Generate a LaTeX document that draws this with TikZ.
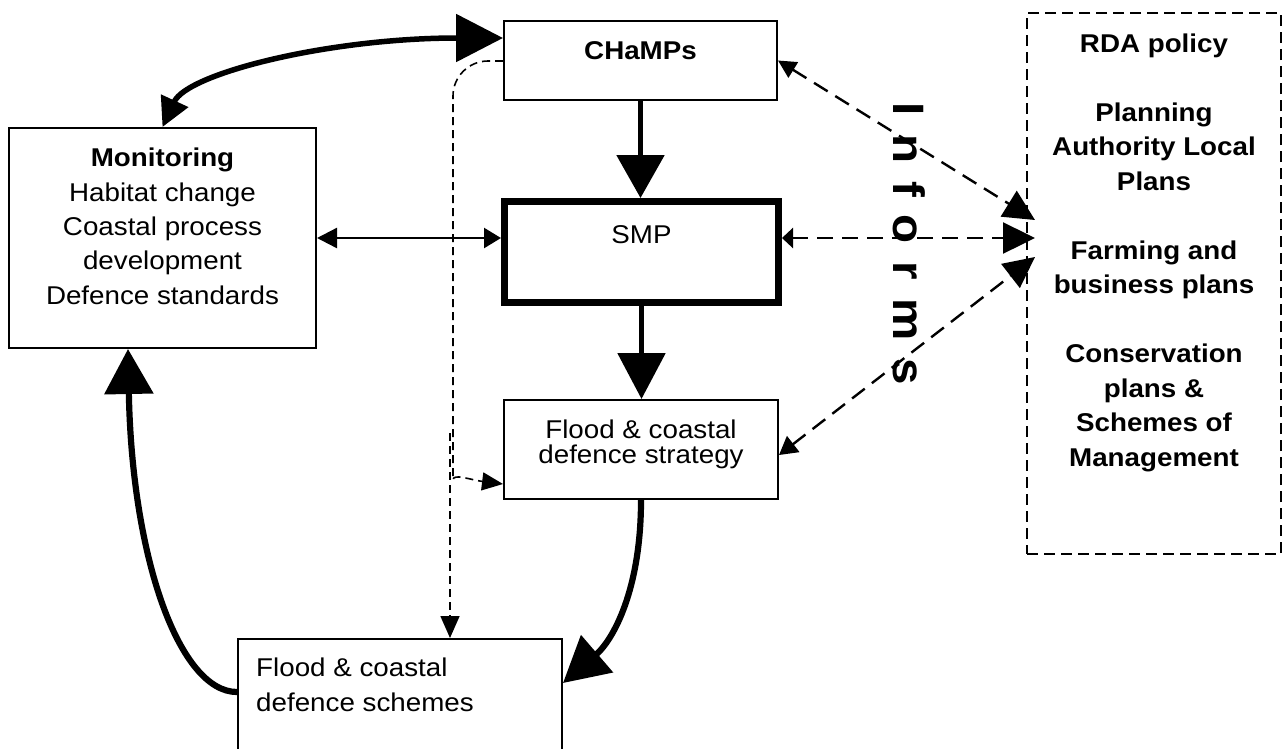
\documentclass[tikz,border=0pt]{standalone}
\usepackage{fontspec}
\setmainfont{Liberation Sans}[FakeStretch=1.08]
\usetikzlibrary{arrows.meta,calc}
\newcommand\fsz{\fontsize{25.7}{34.3}\selectfont}
\newcommand\fstrat{\fontsize{25.7}{25}\selectfont}
\newcommand\frda{\fontsize{25.7}{34.5}\selectfont}
\newcommand\finf{\fontsize{44}{44}\selectfont}
\begin{document}
\begin{tikzpicture}[x=1pt,y=-1pt,
  box/.style={draw, line width=1.8pt, inner sep=0pt},
  txt/.style={inner sep=0pt, font=\fsz},
  heavy/.style={line width=5.5pt},
  heavier/.style={line width=6.2pt},
  dashinf/.style={line width=2.4pt, dash pattern=on 16pt off 9pt},
  dashthin/.style={line width=1.6pt, dash pattern=on 8pt off 5pt}]
\useasboundingbox (0,0) rectangle (1284,748);

% boxes
\node[box, minimum width=307.2pt, minimum height=220.2pt] (mon) at (162.5,238) {};
\node[box, minimum width=273.2pt, minimum height=79.2pt] (champs) at (640.5,60.5) {};
\node[box, line width=7pt, minimum width=274pt, minimum height=101pt] (smp) at (641.5,252) {};
\node[box, minimum width=274.2pt, minimum height=99.2pt] (strat) at (641,449.5) {};
\node[box, minimum width=324.2pt, minimum height=130.2pt] (schemes) at (400,704) {};
\node[box, line width=2pt, dash pattern=on 11pt off 6pt, minimum width=254pt, minimum height=541pt] (rda) at (1154,283.5) {};

% texts (multi-line nodes: base = last baseline)
\node[txt, anchor=base, font=\fsz\bfseries] (tchamps) at (640.5,59) {CHaMPs};
\node[txt, anchor=base] (tsmp) at (641.5,243) {SMP};
\node[txt, anchor=base, align=center] (tmon) at (162.5,304)
  {\textbf{Monitoring}\\Habitat change\\Coastal process\\development\\Defence standards};
\node[txt, anchor=base, align=center, font=\fstrat] (tstrat) at (641,463)
  {Flood \& coastal\\defence strategy};
\node[txt, anchor=base west, align=left] (tsch) at (256,711)
  {Flood \& coastal\\defence schemes};
\node[txt, anchor=base, align=center, font=\frda\bfseries] (trda) at (1154,466)
  {RDA policy\\[34.5pt]Planning\\Authority Local\\Plans\\[34.5pt]Farming and\\business plans\\[34.5pt]Conservation\\plans \&\\Schemes of\\Management};
\node[inner sep=0pt, rotate=-90, font=\finf\bfseries] (inf) at (909.5,244)
  {\spaceskip=18pt I n f o r m s};

% connectors
\draw[heavy, {Triangle[length=29pt,width=29pt]}-{Triangle[length=47pt,width=47pt]}]
  (mon.north) .. controls +(25,-54) and +(-173,0) .. ($(champs.north west)+(0,18)$);
\draw[heavy, -{Triangle[length=43pt,width=47pt]}] (champs.south) -- (champs.south |- smp.north);
\draw[heavy, -{Triangle[length=46pt,width=47pt]}] (smp.south) -- (smp.south |- strat.north);
\draw[line width=2.4pt, {Triangle[length=20pt,width=20pt]}-{Triangle[length=17pt,width=20pt]}]
  (mon.east) -- (mon.east -| smp.west);
\draw[dashinf, {Triangle[length=11pt,width=20pt]}-{Triangle[length=32pt,width=31pt]}]
  (smp.east |- mon.east) -- ($(rda.north west)+(9,226)$);
\draw[dashinf, {Triangle[length=18pt,width=18pt]}-{Triangle[length=31pt,width=30pt]}]
  (champs.east) -- ($(rda.north west)+(9,208)$);
\draw[dashinf, {Triangle[length=18pt,width=20pt]}-{Triangle[length=31pt,width=30pt]}]
  ($(strat.north east)+(0,56)$) -- ($(rda.north west)+(9,245)$);

\coordinate (dv) at (453,445);
\draw[dashthin, -{Triangle[length=21pt,width=18pt]}, rounded corners=35pt]
  ($(champs.north west)+(0,41)$) -| (dv) [sharp corners]
  .. controls +(0,28) and +(-32,-4) .. ($(strat.north west)+(0,85)$);
\coordinate (ds) at (450,433);
\draw[dashthin, -{Triangle[length=22pt,width=19pt]}] (ds) -- (ds |- schemes.north);

\draw[heavier, -{Triangle[length=45pt,width=48pt]}]
  (strat.south) .. controls +(0,90) and +(50,-43) .. ($(schemes.north east)+(0,45)$);
\draw[heavier, -{Triangle[length=45pt,width=48pt]}]
  ($(schemes.north west)+(0,54)$) .. controls +(-57,0) and +(4,211) .. ($(mon.south west)+(120,0)$);
\end{tikzpicture}
\end{document}
